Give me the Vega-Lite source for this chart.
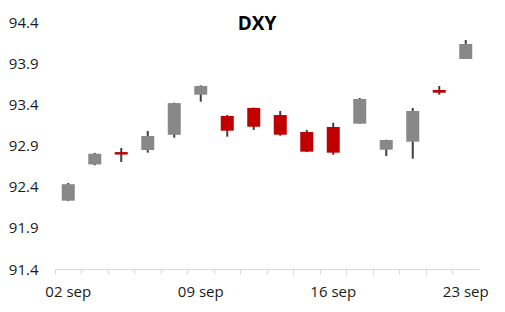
{
  "$schema": "https://vega.github.io/schema/vega-lite/v6.json",
  "width": 424,
  "height": 247,
  "autosize": "none",
  "padding": {"left": 55, "top": 22, "right": 26, "bottom": 43},
  "background": "white",
  "title": {"text": "DXY", "font": "Open Sans", "fontSize": 19, "fontWeight": "bold", "color": "#000000", "anchor": "middle", "baseline": "alphabetic", "offset": -11, "dx": -10, "dy": 23},
  "config": {"view": {"stroke": null}},
  "data": {"values": [
    {"date": "02 sep", "open": 92.23, "high": 92.445, "low": 92.225, "close": 92.43},
    {"date": "03 sep", "open": 92.67, "high": 92.81, "low": 92.66, "close": 92.80},
    {"date": "04 sep", "open": 92.82, "high": 92.87, "low": 92.70, "close": 92.79},
    {"date": "07 sep", "open": 92.845, "high": 93.076, "low": 92.813, "close": 93.015},
    {"date": "08 sep", "open": 93.03, "high": 93.42, "low": 92.995, "close": 93.415},
    {"date": "09 sep", "open": 93.517, "high": 93.63, "low": 93.432, "close": 93.623},
    {"date": "10 sep", "open": 93.258, "high": 93.27, "low": 93.007, "close": 93.08},
    {"date": "11 sep", "open": 93.356, "high": 93.36, "low": 93.088, "close": 93.128},
    {"date": "14 sep", "open": 93.27, "high": 93.319, "low": 93.019, "close": 93.031},
    {"date": "15 sep", "open": 93.064, "high": 93.088, "low": 92.82, "close": 92.825},
    {"date": "16 sep", "open": 93.125, "high": 93.177, "low": 92.788, "close": 92.813},
    {"date": "17 sep", "open": 93.165, "high": 93.477, "low": 93.165, "close": 93.465},
    {"date": "18 sep", "open": 92.849, "high": 92.97, "low": 92.772, "close": 92.967},
    {"date": "21 sep", "open": 92.946, "high": 93.356, "low": 92.74, "close": 93.319},
    {"date": "22 sep", "open": 93.574, "high": 93.623, "low": 93.517, "close": 93.541},
    {"date": "23 sep", "open": 93.951, "high": 94.181, "low": 93.95, "close": 94.133}
  ]},
  "encoding": {
    "x": {
      "field": "date", "type": "ordinal", "sort": null,
      "scale": {"paddingInner": 0, "paddingOuter": 0},
      "axis": {
        "title": null, "labelAngle": 0, "bandPosition": 0,
        "domainColor": "#d9d9d9", "tickColor": "#d9d9d9", "tickSize": 5,
        "labelFont": "Open Sans", "labelFontSize": 15, "labelColor": "#1a1a1a",
        "labelDx": 13, "labelPadding": 10,
        "labelExpr": "indexof(['02 sep','09 sep','16 sep','23 sep'], datum.value) >= 0 ? datum.value : ''"
      }
    }
  },
  "layer": [
    {
      "mark": {"type": "rule", "strokeWidth": 2, "color": "#3f3f3f"},
      "encoding": {
        "y": {"field": "low", "type": "quantitative",
          "scale": {"domain": [91.4, 94.4], "nice": false, "zero": false},
          "axis": {"title": null, "values": [91.4, 91.9, 92.4, 92.9, 93.4, 93.9, 94.4], "format": ".1f",
            "domain": false, "ticks": false, "grid": false, "labelPadding": 17,
            "labelFont": "Open Sans", "labelFontSize": 15, "labelColor": "#1a1a1a"}},
        "y2": {"field": "high"}
      }
    },
    {
      "mark": {"type": "bar", "size": 13},
      "encoding": {
        "y": {"field": "open", "type": "quantitative"},
        "y2": {"field": "close"},
        "color": {
          "condition": {"test": "datum.close < datum.open", "value": "#c00000"},
          "value": "#888888"
        }
      }
    }
  ]
}
